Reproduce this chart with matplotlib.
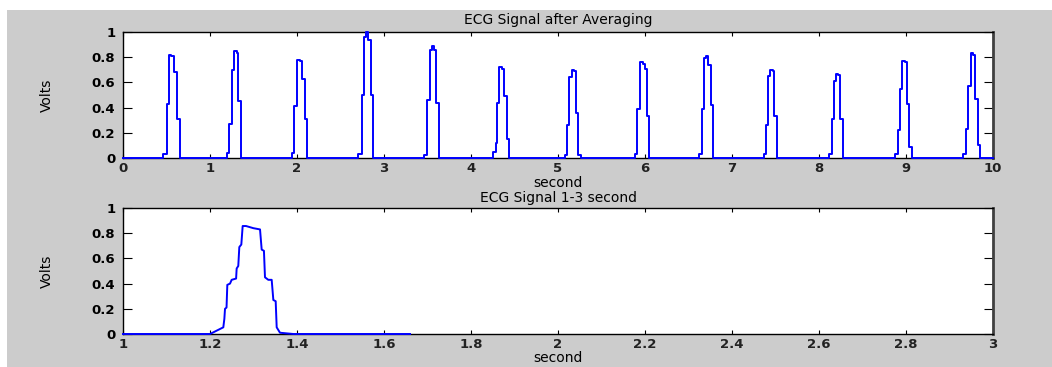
import matplotlib
matplotlib.use("Agg")
import matplotlib.pyplot as plt
from matplotlib.patches import Rectangle

# ---------------- data ----------------
# Top panel: each beat given as step edge times (s) and the level held from that edge (V)
beat_times = [
    [0.463, 0.502, 0.532, 0.548, 0.586, 0.617, 0.655],
    [1.199, 1.222, 1.249, 1.276, 1.307, 1.326, 1.353],
    [1.940, 1.966, 1.996, 2.034, 2.061, 2.092, 2.111],
    [2.700, 2.743, 2.770, 2.793, 2.820, 2.847, 2.877],
    [3.460, 3.498, 3.529, 3.556, 3.575, 3.598, 3.632],
    [4.257, 4.287, 4.303, 4.326, 4.353, 4.379, 4.410, 4.437],
    [5.080, 5.107, 5.130, 5.157, 5.184, 5.207, 5.233, 5.261],
    [5.885, 5.912, 5.943, 5.973, 6.000, 6.019, 6.050],
    [6.624, 6.651, 6.678, 6.700, 6.728, 6.759, 6.785],
    [7.368, 7.391, 7.418, 7.437, 7.468, 7.483, 7.514],
    [8.119, 8.146, 8.172, 8.195, 8.222, 8.241, 8.272],
    [8.874, 8.904, 8.931, 8.958, 8.989, 9.008, 9.038, 9.065],
    [9.659, 9.690, 9.716, 9.743, 9.774, 9.793, 9.824, 9.851],
]
beat_levels = [
    [0.03, 0.43, 0.82, 0.81, 0.68, 0.31, 0.0],
    [0.04, 0.27, 0.70, 0.85, 0.83, 0.45, 0.0],
    [0.04, 0.41, 0.78, 0.77, 0.63, 0.31, 0.0],
    [0.03, 0.50, 0.96, 1.00, 0.94, 0.50, 0.0],
    [0.02, 0.46, 0.86, 0.89, 0.86, 0.44, 0.0],
    [0.05, 0.12, 0.44, 0.72, 0.71, 0.49, 0.15, 0.0],
    [0.02, 0.26, 0.64, 0.70, 0.69, 0.36, 0.02, 0.0],
    [0.03, 0.39, 0.76, 0.75, 0.71, 0.33, 0.0],
    [0.03, 0.39, 0.79, 0.81, 0.74, 0.42, 0.0],
    [0.03, 0.26, 0.65, 0.70, 0.69, 0.33, 0.0],
    [0.03, 0.31, 0.61, 0.67, 0.66, 0.31, 0.0],
    [0.03, 0.22, 0.55, 0.77, 0.76, 0.43, 0.09, 0.0],
    [0.03, 0.23, 0.57, 0.83, 0.82, 0.47, 0.10, 0.0],
]
top_start, top_end = 0.0, 10.0

# Bottom panel: zoom of 1-3 s (data stops near 1.66 s)
zoom_t = [1.000, 1.200, 1.2306, 1.2330, 1.2345, 1.2380, 1.2398, 1.2460, 1.2498,
          1.2600, 1.2613, 1.2650, 1.2674, 1.2720, 1.2751, 1.2828, 1.2996, 1.3150,
          1.3188, 1.3240, 1.3264, 1.3340, 1.3418, 1.3456, 1.3510, 1.3533, 1.3609,
          1.3916, 1.6598]
zoom_v = [0.0, 0.0, 0.053, 0.12, 0.20, 0.21, 0.39, 0.40, 0.43,
          0.44, 0.52, 0.54, 0.69, 0.71, 0.857, 0.857, 0.84, 0.83,
          0.67, 0.66, 0.45, 0.43, 0.43, 0.27, 0.26, 0.053, 0.01,
          0.0, 0.0]

top_xticks = [0, 1, 2, 3, 4, 5, 6, 7, 8, 9, 10]
bot_xticks = [1, 1.2, 1.4, 1.6, 1.8, 2, 2.2, 2.4, 2.6, 2.8, 3]
bot_xlabels = ["1", "1.2", "1.4", "1.6", "1.8", "2", "2.2", "2.4", "2.6", "2.8", "3"]
yticks = [0, 0.2, 0.4, 0.6, 0.8, 1]
ylabels = ["0", "0.2", "0.4", "0.6", "0.8", "1"]

# ---------------- figure ----------------
W, H = 1052, 367
fig = plt.figure(figsize=(W / 100, H / 100), dpi=100, facecolor="#cccccc")
# thin white margins at top and left
fig.patches.append(Rectangle((0, 0), 7 / W, 1, transform=fig.transFigure,
                             facecolor="white", edgecolor="none", zorder=-10))
fig.patches.append(Rectangle((0, (H - 10) / H), 1, 10 / H, transform=fig.transFigure,
                             facecolor="white", edgecolor="none", zorder=-10))

left = 123 / W
width = (993 - 123) / W
ax1 = fig.add_axes([left, (H - 158) / H, width, 126 / H])
ax2 = fig.add_axes([left, (H - 334) / H, width, 126 / H])

# build top series
tx = [top_start]
ty = [0.0]
for ts, vs in zip(beat_times, beat_levels):
    tx.extend(ts)
    ty.extend(vs)
tx.append(top_end)
ty.append(0.0)

blue = "#0000ff"
ax1.plot(tx, ty, color=blue, lw=1.4, drawstyle="steps-post", zorder=3, clip_on=False)
ax2.plot(zoom_t, zoom_v, color=blue, lw=1.4, zorder=3, clip_on=False)

tick_font = dict(family="DejaVu Sans", size=9.5, weight="bold")
text_font = dict(family="DejaVu Sans", size=10)

for ax in (ax1, ax2):
    ax.set_facecolor("white")
    ax.set_ylim(0, 1)
    ax.set_yticks(yticks)
    ax.set_yticklabels(ylabels, fontdict=tick_font, color="#222222")
    ax.tick_params(axis="x", direction="in", length=3, width=0.8, top=True,
                   colors="black", pad=3)
    ax.tick_params(axis="y", direction="in", length=6.5, width=0.8, right=True,
                   colors="black", pad=5.5)
    for s in ax.spines.values():
        s.set_linewidth(1.0)
        s.set_color("black")
    ax.spines["right"].set_linewidth(2.0)
    ax.spines["right"].set_color("#404040")
    ax.set_ylabel("Volts", fontdict=text_font, labelpad=27)

ax1.set_xlim(0, 10)
ax1.set_xticks(top_xticks)
ax1.set_xticklabels([str(v) for v in top_xticks], fontdict=tick_font, color="#222222")
ax1.set_title("ECG Signal after Averaging", fontdict=text_font, pad=6)
ax1.set_xlabel("second", fontdict=text_font, labelpad=0.5)

ax2.set_xlim(1, 3)
ax2.set_xticks(bot_xticks)
ax2.set_xticklabels(bot_xlabels, fontdict=tick_font, color="#222222")
ax2.set_title("ECG Signal 1-3 second", fontdict=text_font, pad=4)
ax2.set_xlabel("second", fontdict=text_font, labelpad=0)

fig.savefig("out.png", dpi=100, facecolor=fig.get_facecolor())
